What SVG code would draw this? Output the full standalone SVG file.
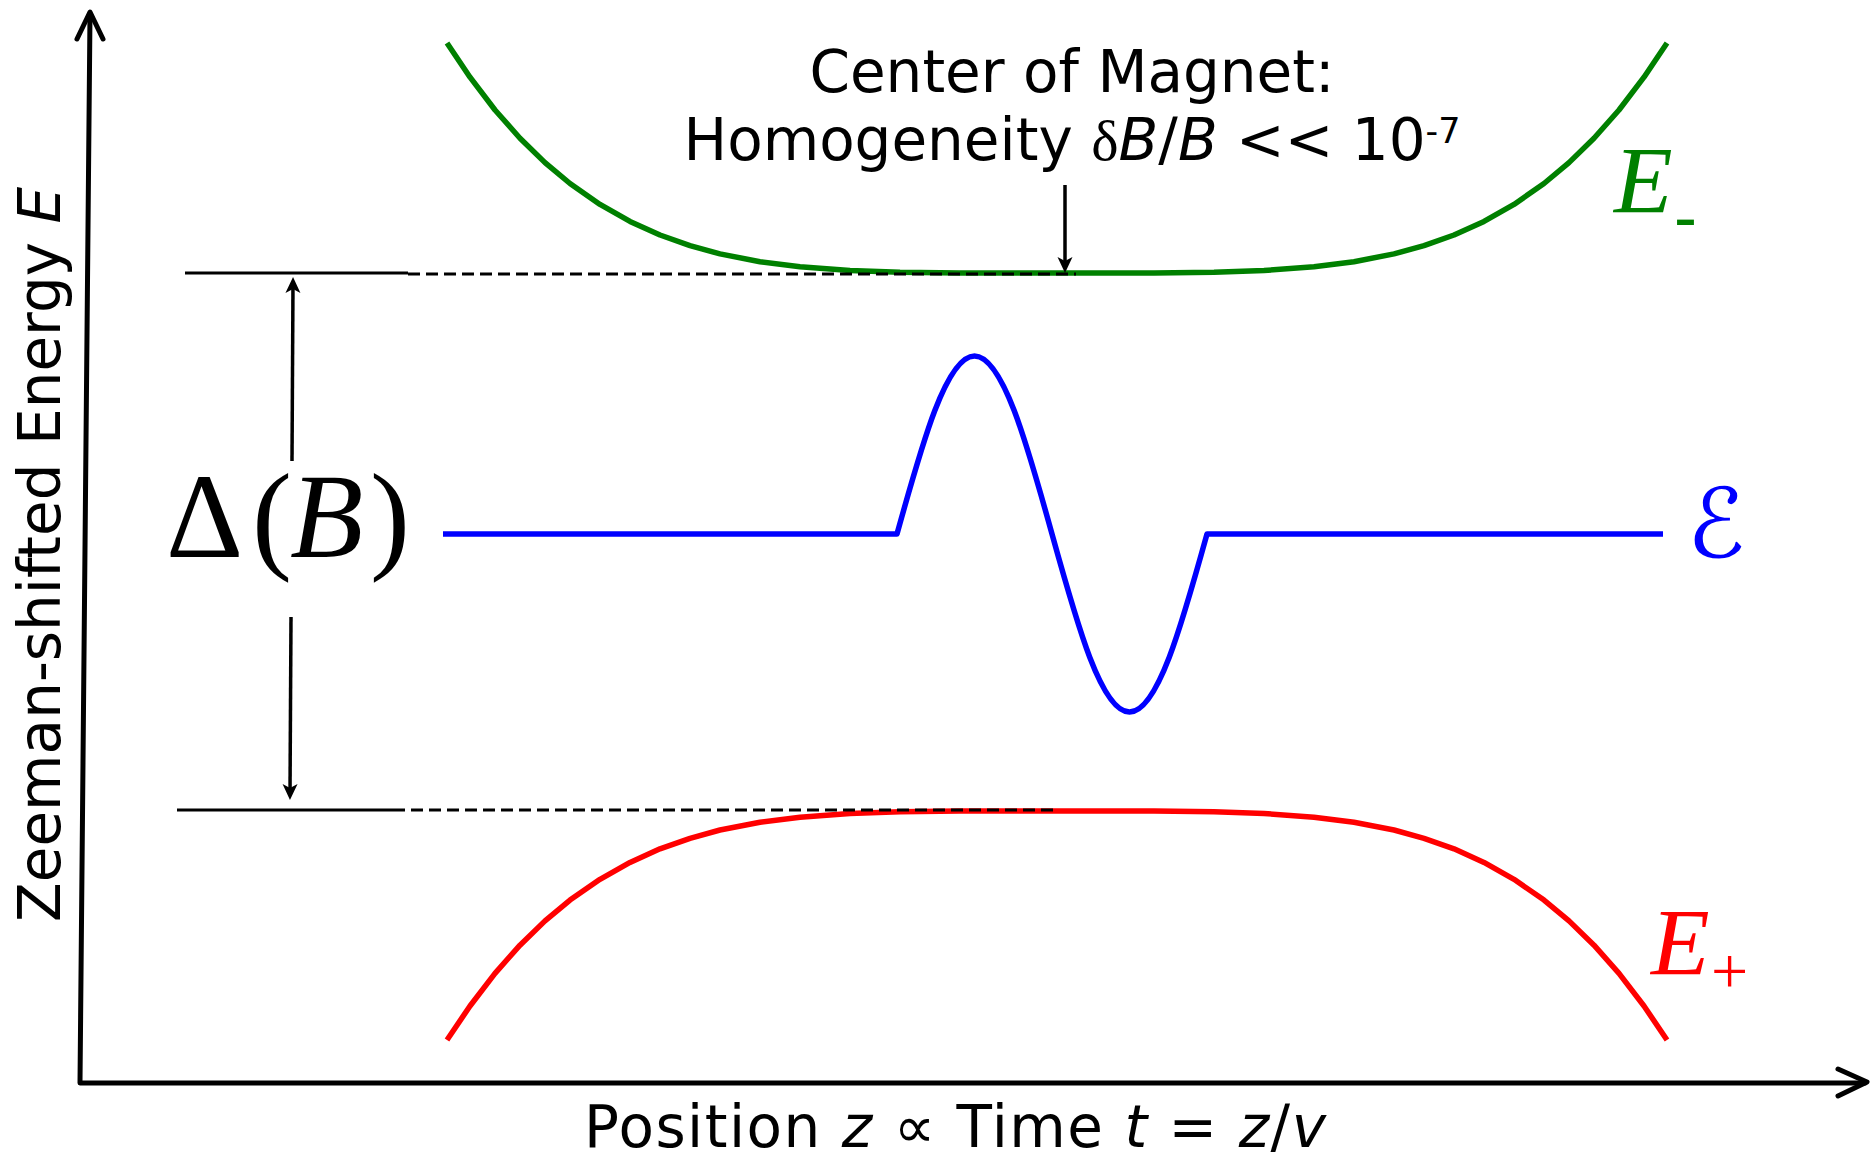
<svg xmlns="http://www.w3.org/2000/svg" width="1876" height="1160" viewBox="0 0 1876 1160">
<style>
.sans{font-family:"DejaVu Sans",Verdana,sans-serif;font-size:58px;fill:#000}
.serif{font-family:"Liberation Serif","Times New Roman",serif}
.it{font-style:italic}
.axis{fill:none;stroke:#000;stroke-width:5;stroke-linecap:round;stroke-linejoin:round}
.level{fill:none;stroke:#000;stroke-width:3}
.dash{stroke-dasharray:12 6}
.dim{fill:none;stroke:#000;stroke-width:3.5;marker-end:url(#ah)}
.curve{fill:none;stroke-width:5.5;stroke-linejoin:round}
</style>
<defs>
<marker id="ah" markerUnits="userSpaceOnUse" markerWidth="30" markerHeight="30" refX="0" refY="0" orient="auto" overflow="visible">
<path d="M6,0 L-10,-7.5 L-6,0 L-10,7.5 Z" fill="#000"/>
</marker>
</defs>
<rect width="1876" height="1160" fill="#fff"/>
<g id="axes">
<path class="axis" d="M90,14 L80,1083 L1865,1083"/>
<path class="axis" d="M77,39 L90,12 L103,39"/>
<path class="axis" d="M1838,1069 L1867,1082 L1838,1096"/>
<text class="sans" transform="translate(60,922) rotate(-90)">Zeeman-shifted Energy <tspan class="it">E</tspan></text>
<text class="sans" x="584" y="1147" letter-spacing="1.5">Position <tspan class="it">z</tspan> ∝ Time <tspan class="it">t</tspan> = <tspan class="it">z</tspan>/<tspan class="it">v</tspan></text>
</g>
<g id="curves">
<path id="e-minus" class="curve" stroke="#008000" d="M447,43 L470,77.2 L495,110 L520,138.2 L545,162.6 L570,183.5 L600,204.4 L630,221.4 L660,235 L690,245.6 L720,253.9 L760,261.7 L800,266.8 L850,270.5 L900,272.2 L960,272.9 L1057,273 L1154,272.9 L1214,272.2 L1264,270.5 L1314,266.8 L1354,261.7 L1394,253.9 L1424,245.6 L1454,235 L1484,221.4 L1514,204.4 L1544,183.5 L1569,162.6 L1594,138.2 L1619,110 L1644,77.2 L1667,43"/>
<path id="e-plus" class="curve" stroke="#FF0000" d="M447,1040 L470,1006 L495,973.3 L520,945.2 L545,920.9 L570,900.1 L600,879.3 L630,862.4 L660,848.8 L690,838.3 L720,830 L760,822.3 L800,817.2 L850,813.5 L900,811.8 L960,811.1 L1057,811 L1154,811.1 L1214,811.8 L1264,813.5 L1314,817.2 L1354,822.3 L1394,830 L1424,838.3 L1454,848.8 L1484,862.4 L1514,879.3 L1544,900.1 L1569,920.9 L1594,945.2 L1619,973.3 L1644,1006 L1667,1040"/>
<path id="field" class="curve" stroke="#0000FF" d="M443,534 L897,534 C922.3,442.8 946.5,356 974.5,356 C1002.5,356 1026.7,442.8 1052,534 C1077.3,625.2 1101.5,712 1129.5,712 C1157.5,712 1181.7,625.2 1207,534 L1663,534"/>
</g>
<g id="levels">
<path class="level" d="M185,273 H408"/>
<path class="level dash" d="M408,274 H1076"/>
<path class="level" d="M177,810 H393"/>
<path class="level dash" d="M393,810 H1059"/>
</g>
<g id="connectors">
<path class="dim" d="M292,461 L293,283"/>
<path class="dim" d="M291,617 L290,794"/>
<path class="dim" d="M1065,185 L1065,267"/>
</g>
<g id="delta-label">
<text class="serif" font-size="120" y="557"><tspan x="166">Δ</tspan><tspan x="252">(</tspan><tspan x="290" class="it">B</tspan><tspan x="370">)</tspan></text>
</g>
<g id="center-label">
<text class="sans" text-anchor="middle" x="1072" y="92">Center of Magnet:</text>
<text class="sans" text-anchor="middle" x="1072" y="160">Homogeneity <tspan class="serif">δ</tspan><tspan class="it">B</tspan>/<tspan class="it">B</tspan> &lt;&lt; 10<tspan font-size="35" dy="-17">-7</tspan></text>
</g>
<g id="label-e-minus">
<text class="serif it" font-size="96" fill="#008000" x="1614" y="213">E<tspan font-family="Liberation Sans,sans-serif" font-style="normal" font-size="69" x="1674" y="241">-</tspan></text>
</g>
<g id="label-field">
<text font-family="DejaVu Serif,DejaVu Sans,serif" font-size="96" fill="#0000FF" x="1687" y="557">ℰ</text>
</g>
<g id="label-e-plus">
<text class="serif it" font-size="96" fill="#FF0000" x="1651" y="975">E<tspan font-style="normal" font-size="66" x="1711" y="993">+</tspan></text>
</g>
</svg>
